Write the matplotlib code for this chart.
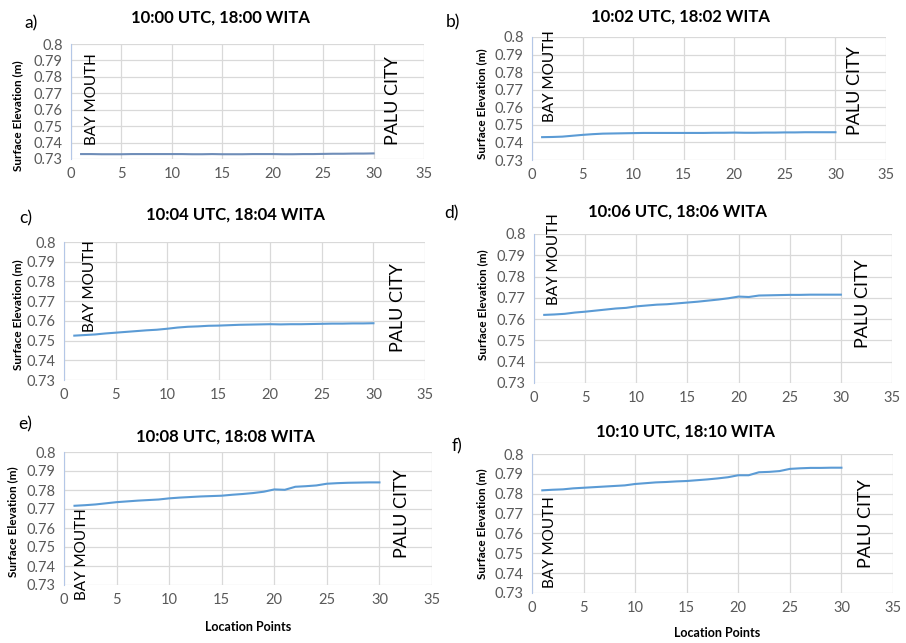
import numpy as np
import matplotlib.pyplot as plt

plt.rcParams['font.family'] = ['Lato', 'DejaVu Sans']

# location points along the bay
points = np.arange(1, 31)

# surface elevation (m), 30 values each
elev_a = [0.7330, 0.7330, 0.7329, 0.7329, 0.7329, 0.7330, 0.7330, 0.7330, 0.7330, 0.7330,
          0.7330, 0.7329, 0.7329, 0.7330, 0.7329, 0.7329, 0.7329, 0.7330, 0.7330, 0.7330,
          0.7329, 0.7329, 0.7330, 0.7330, 0.7331, 0.7332, 0.7332, 0.7333, 0.7333, 0.7334]
elev_b = [0.7430, 0.7431, 0.7433, 0.7438, 0.7443, 0.7447, 0.7450, 0.7451, 0.7452, 0.7453,
          0.7454, 0.7454, 0.7454, 0.7454, 0.7454, 0.7454, 0.7454, 0.7455, 0.7455, 0.7456,
          0.7455, 0.7455, 0.7456, 0.7456, 0.7457, 0.7457, 0.7458, 0.7458, 0.7458, 0.7458]
elev_c = [0.7525, 0.7528, 0.7531, 0.7536, 0.7540, 0.7544, 0.7548, 0.7552, 0.7555, 0.7560,
          0.7566, 0.7570, 0.7572, 0.7575, 0.7576, 0.7578, 0.7580, 0.7581, 0.7582, 0.7583,
          0.7582, 0.7583, 0.7583, 0.7584, 0.7585, 0.7586, 0.7586, 0.7587, 0.7587, 0.7588]
elev_d = [0.7620, 0.7622, 0.7625, 0.7631, 0.7635, 0.7640, 0.7645, 0.7650, 0.7653, 0.7660,
          0.7664, 0.7668, 0.7670, 0.7674, 0.7678, 0.7682, 0.7687, 0.7692, 0.7698, 0.7706,
          0.7704, 0.7711, 0.7712, 0.7713, 0.7714, 0.7714, 0.7715, 0.7715, 0.7715, 0.7715]
elev_e = [0.7717, 0.7720, 0.7724, 0.7730, 0.7736, 0.7740, 0.7744, 0.7747, 0.7750, 0.7756,
          0.7760, 0.7763, 0.7766, 0.7768, 0.7770, 0.7775, 0.7779, 0.7784, 0.7791, 0.7803,
          0.7801, 0.7817, 0.7820, 0.7824, 0.7833, 0.7836, 0.7838, 0.7839, 0.7840, 0.7840]
elev_f = [0.7817, 0.7820, 0.7822, 0.7827, 0.7830, 0.7833, 0.7836, 0.7839, 0.7842, 0.7849,
          0.7853, 0.7857, 0.7859, 0.7862, 0.7864, 0.7868, 0.7872, 0.7877, 0.7883, 0.7893,
          0.7893, 0.7908, 0.7910, 0.7914, 0.7925, 0.7928, 0.7930, 0.7930, 0.7931, 0.7931]

series = [elev_a, elev_b, elev_c, elev_d, elev_e, elev_f]
titles = ['10:00 UTC, 18:00 WITA', '10:02 UTC, 18:02 WITA', '10:04 UTC, 18:04 WITA',
          '10:06 UTC, 18:06 WITA', '10:08 UTC, 18:08 WITA', '10:10 UTC, 18:10 WITA']
letters = ['a)', 'b)', 'c)', 'd)', 'e)', 'f)']
y_ticks = [0.73, 0.74, 0.75, 0.76, 0.77, 0.78, 0.79, 0.8]
x_ticks = [0, 5, 10, 15, 20, 25, 30, 35]

W, H = 906, 643
fig = plt.figure(figsize=(W / 100, H / 100), dpi=100)


def fx(x):
    return x / W


def fy(y):
    return 1 - y / H


# axes boxes in pixels: left, top, right, bottom
boxes = [(71, 44, 424, 159), (532, 37, 886, 160), (64, 242, 425, 380),
         (534, 234, 892, 383), (64, 452, 432, 585), (532, 454, 893, 593)]
title_pos = [(220, 18), (680, 17), (235, 215), (677, 212), (225, 437), (685, 432)]
letter_pos = [(31, 23), (453, 22), (26, 218), (451, 213), (25, 424), (457, 446)]
ylab_pos = [(18, 116), (482, 104), (18, 315), (483, 305), (13, 522), (482, 524)]
bay_pos = [(92, 145), (550, 122), (90, 332), (554, 305), (82, 600), (550, 588)]
palu_pos = [(393, 145), (855, 135), (398, 352), (863, 348), (402, 558), (866, 568)]

grey = '#595959'
for i in range(6):
    l, t, r, b = boxes[i]
    ax = fig.add_axes([fx(l), fy(b), fx(r - l), (b - t) / H])
    color = '#6f8db8' if i == 0 else '#5b9bd5'
    ax.plot(points, series[i], color=color, lw=1.5)
    ax.set_xlim(0, 35)
    ax.set_ylim(0.73, 0.8)
    ax.set_xticks(x_ticks)
    ax.set_yticks(y_ticks)
    ax.set_yticklabels(['0.73', '0.74', '0.75', '0.76', '0.77', '0.78', '0.79', '0.8'])
    ax.tick_params(length=0, labelsize=10.5, labelcolor=grey, pad=6)
    ax.grid(True, color='#d9d9d9', lw=0.9)
    ax.set_axisbelow(True)
    for s in ['top', 'right', 'bottom']:
        ax.spines[s].set_visible(False)
    ax.spines['left'].set_color('#b4c7e7')

    fig.text(fx(title_pos[i][0]), fy(title_pos[i][1]), titles[i], ha='center', va='center',
             fontsize=12, fontweight='bold')
    fig.text(fx(letter_pos[i][0]), fy(letter_pos[i][1]), letters[i], ha='center', va='center',
             fontsize=12.5)
    fig.text(fx(ylab_pos[i][0]), fy(ylab_pos[i][1]), 'Surface Elevation (m)', rotation=90,
             ha='center', va='center', fontsize=8.5, fontweight='bold')
    fig.text(fx(bay_pos[i][0]), fy(bay_pos[i][1]), 'BAY MOUTH', rotation=90,
             ha='center', va='bottom', fontsize=11)
    fig.text(fx(palu_pos[i][0]), fy(palu_pos[i][1]), 'PALU CITY', rotation=90,
             ha='center', va='bottom', fontsize=13)

fig.text(fx(248), fy(627), 'Location Points', ha='center', va='center', fontsize=9, fontweight='bold')
fig.text(fx(717), fy(633), 'Location Points', ha='center', va='center', fontsize=9, fontweight='bold')

fig.savefig('out.png', dpi=100)
